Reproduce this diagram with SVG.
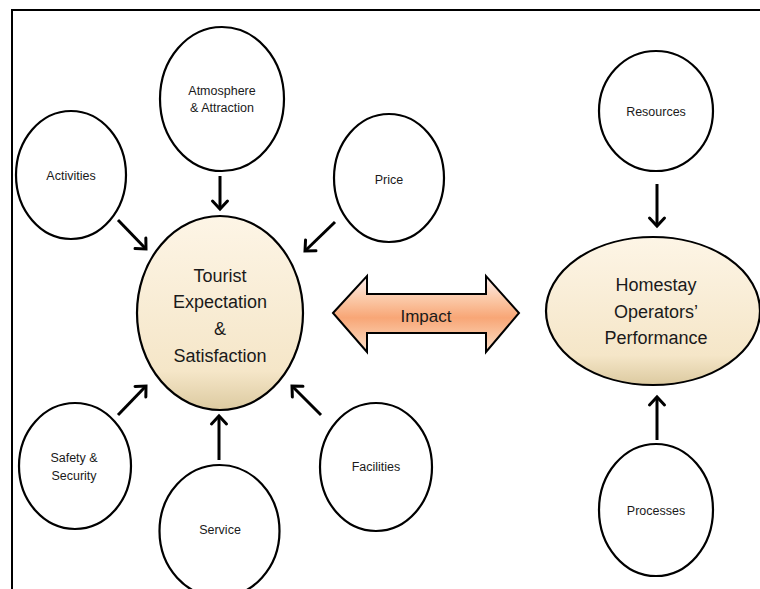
<svg xmlns="http://www.w3.org/2000/svg" width="760" height="589" viewBox="0 0 760 589">
<defs>
<linearGradient id="beige" x1="0" y1="0" x2="0" y2="1">
<stop offset="0" stop-color="#fdf5e6"/>
<stop offset="0.8" stop-color="#f5e6c8"/>
<stop offset="1" stop-color="#dccaa0"/>
</linearGradient>
<linearGradient id="orange" x1="0" y1="0" x2="0" y2="1">
<stop offset="0" stop-color="#fdf0f0"/>
<stop offset="0.3" stop-color="#fbc9a8"/>
<stop offset="0.55" stop-color="#f8a676"/>
<stop offset="1" stop-color="#fce0c8"/>
</linearGradient>
<marker id="chev" markerUnits="userSpaceOnUse" markerWidth="20" markerHeight="20" refX="11" refY="10" orient="auto">
<path d="M3,2.5 L11,10 L3,17.5" fill="none" stroke="#000" stroke-width="3" stroke-linecap="round" stroke-linejoin="miter"/>
</marker>
<style>
.n{fill:#fff;stroke:#000;stroke-width:2.2}
.c{fill:url(#beige);stroke:#000;stroke-width:2.2}
.t{font-family:"Liberation Sans",Arial,sans-serif;font-size:12.5px;fill:#1a1a1a;text-anchor:middle}
.b{font-family:"Liberation Sans",Arial,sans-serif;font-size:18px;fill:#1a1a1a;text-anchor:middle}
.a{fill:none;stroke:#000;stroke-width:3;marker-end:url(#chev)}
</style>
</defs>
<rect x="12" y="10" width="800" height="700" fill="#fff" stroke="#000" stroke-width="2"/>
<g id="connectors">
<line class="a" x1="220" y1="176" x2="220" y2="209"/>
<line class="a" x1="118" y1="220" x2="146" y2="249"/>
<line class="a" x1="335" y1="222" x2="305" y2="251"/>
<line class="a" x1="118" y1="415" x2="146" y2="386"/>
<line class="a" x1="219" y1="460" x2="219" y2="416"/>
<line class="a" x1="321" y1="415" x2="292" y2="386"/>
<line class="a" x1="657" y1="184" x2="657" y2="226"/>
<line class="a" x1="657" y1="440" x2="657" y2="397"/>
</g>
<g id="impact">
<polygon points="333,313 367,276 367,294 486,294 486,276 519,313 486,352 486,333 367,333 367,352" fill="url(#orange)" stroke="#000" stroke-width="2" stroke-linejoin="miter"/>
<text class="b" x="426" y="322" style="font-size:17px">Impact</text>
</g>
<g id="tourist">
<ellipse class="c" cx="220" cy="313" rx="83" ry="97"/>
<text class="b" x="220" y="282">Tourist</text>
<text class="b" x="220" y="308">Expectation</text>
<text class="b" x="220" y="335">&amp;</text>
<text class="b" x="220" y="362">Satisfaction</text>
</g>
<g id="homestay">
<ellipse class="c" cx="653" cy="311" rx="107" ry="74"/>
<text class="b" x="656" y="291">Homestay</text>
<text class="b" x="656" y="318">Operators’</text>
<text class="b" x="656" y="344">Performance</text>
</g>
<g id="atmosphere">
<ellipse class="n" cx="222" cy="99" rx="62" ry="72"/>
<text class="t" x="222" y="95">Atmosphere</text>
<text class="t" x="222" y="112">&amp; Attraction</text>
</g>
<g id="activities">
<ellipse class="n" cx="71" cy="175" rx="55" ry="64"/>
<text class="t" x="71" y="180">Activities</text>
</g>
<g id="price">
<ellipse class="n" cx="389" cy="178" rx="55" ry="64"/>
<text class="t" x="389" y="184">Price</text>
</g>
<g id="resources">
<ellipse class="n" cx="656" cy="111" rx="57" ry="60"/>
<text class="t" x="656" y="116">Resources</text>
</g>
<g id="safety">
<ellipse class="n" cx="75" cy="466" rx="56" ry="63"/>
<text class="t" x="74" y="462">Safety &amp;</text>
<text class="t" x="74" y="480">Security</text>
</g>
<g id="service">
<ellipse class="n" cx="219.5" cy="531" rx="60" ry="66"/>
<text class="t" x="220" y="534">Service</text>
</g>
<g id="facilities">
<ellipse class="n" cx="376" cy="467" rx="56" ry="64"/>
<text class="t" x="376" y="471">Facilities</text>
</g>
<g id="processes">
<ellipse class="n" cx="656" cy="510" rx="57" ry="66"/>
<text class="t" x="656" y="515">Processes</text>
</g>
</svg>
